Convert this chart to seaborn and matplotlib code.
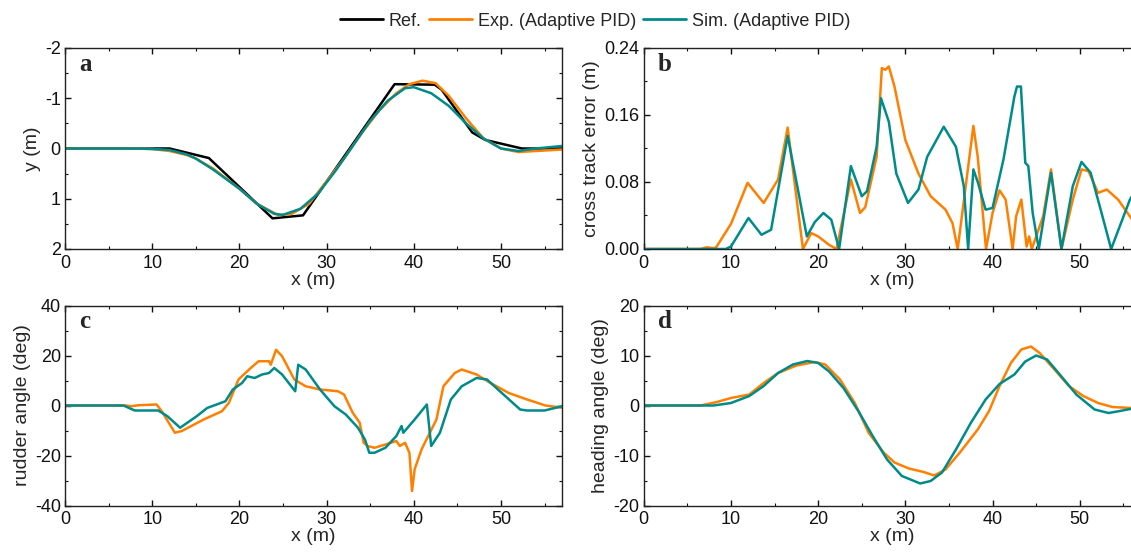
import numpy as np
import pandas as pd
import matplotlib
matplotlib.use("Agg")
import matplotlib.pyplot as plt
from matplotlib.ticker import MultipleLocator
import seaborn as sns

# --- a: path y(x) ---
ref_x = [0, 12, 16.5, 23.8, 27.3, 37.8, 42.4, 43.2, 46.7, 48.2, 52.4, 57]
ref_y = [0, 0, 0.19, 1.39, 1.33, -1.28, -1.27, -1.17, -0.32, -0.17, 0.0, 0.0]

exp_a_x = [0, 8, 10, 12, 14, 15, 17, 20, 22, 24.5, 26, 28, 30, 32, 34, 36, 38, 39.5, 41, 42.5, 44, 46, 48, 50, 52, 54, 57]
exp_a_y = [0, 0, 0.01, 0.05, 0.13, 0.2, 0.4, 0.8, 1.1, 1.33, 1.3, 1.1, 0.65, 0.2, -0.3, -0.75, -1.1, -1.28, -1.35, -1.3, -1.05, -0.6, -0.2, 0.0, 0.07, 0.05, 0.02]

sim_a_x = [0, 8, 10, 12, 14, 15, 17, 20, 22, 24, 25, 27, 29, 31, 33, 35, 37, 39, 40, 42, 44, 46, 48, 50, 52, 54, 57]
sim_a_y = [0, 0, 0.01, 0.03, 0.12, 0.2, 0.42, 0.8, 1.1, 1.3, 1.32, 1.2, 0.9, 0.45, -0.05, -0.55, -0.95, -1.2, -1.22, -1.1, -0.85, -0.5, -0.2, 0.0, 0.05, 0.0, -0.05]

# --- b: cross track error ---
exp_b_x = [0, 6.5, 7.2, 8.0, 8.3, 10, 11.9, 13.75, 15.4, 16.5, 18.25, 19.2, 20, 21.25, 22.1, 23.75, 24.8, 25.4, 26.7, 27.3, 27.7,
           28.1, 28.75, 30, 31.5, 32.9, 34.6, 35.4, 36.0, 37.8, 38.3, 39.25, 40, 40.8, 41.5, 42.3, 42.7, 43.3, 43.9, 44.2, 44.5,
           45.8, 46.7, 47.9, 49.2, 50.2, 51, 52.1, 53.1, 54.4, 55.75, 57]
exp_b_y = [0, 0, 0.002, 0.001, 0.002, 0.03, 0.079, 0.055, 0.083, 0.145, 0.0, 0.019, 0.015, 0.005, 0.0, 0.083, 0.043, 0.05, 0.11, 0.216, 0.214,
           0.218, 0.194, 0.13, 0.09, 0.063, 0.047, 0.031, 0.0, 0.147, 0.11, 0.0, 0.043, 0.07, 0.059, 0.0, 0.039, 0.059, 0.003, 0.015, 0.0,
           0.039, 0.095, 0.0, 0.059, 0.095, 0.093, 0.067, 0.071, 0.059, 0.039, 0.02]

sim_b_x = [0, 9.4, 10, 12, 13.5, 14.6, 16.5, 18.7, 19.6, 20.6, 21.5, 22.4, 23.75, 25, 25.6, 26.7, 27.2, 28.1, 28.96, 30.3, 31.5, 32.5,
           34.4, 35.8, 36.7, 37.2, 37.8, 38.3, 39.2, 40, 41.25, 42.5, 42.8, 43.25, 43.75, 44.1, 44.6, 45.3, 46.7, 47.9, 49.2, 50.2,
           51.25, 52.5, 53.6, 55.75, 57]
sim_b_y = [0, 0, 0.003, 0.037, 0.017, 0.023, 0.135, 0.015, 0.032, 0.043, 0.035, 0.0, 0.099, 0.063, 0.069, 0.122, 0.18, 0.152, 0.09, 0.055, 0.071, 0.11,
           0.146, 0.122, 0.075, 0.0, 0.095, 0.08, 0.047, 0.049, 0.107, 0.182, 0.194, 0.194, 0.103, 0.099, 0.043, 0.0, 0.091, 0.0, 0.075, 0.104,
           0.091, 0.043, 0.0, 0.059, 0.08]

# --- c: rudder angle ---
exp_c_x = [0, 7, 7.6, 8.4, 10.5, 11.1, 12.6, 13.4, 15.9, 18, 18.8, 19.9, 21.3, 22.2, 23.4, 23.6, 24.2, 24.9, 26.3, 27.6, 29.25, 31.3, 32,
           33, 33.8, 34.25, 34.7, 35.5, 36.75, 38, 38.4, 39, 39.5, 39.8, 40.1, 40.9, 42.6, 43.4, 44.7, 45.5, 47.2, 48.8, 50.9, 53, 55.1, 57]
exp_c_y = [0, 0, -0.3, 0.1, 0.4, -2.3, -10.9, -10.2, -5.6, -2.3, 1.1, 10.4, 15, 17.7, 17.7, 16.3, 22.3, 19.7, 10.4, 7.7, 6.4, 5.7, 4.4,
           -2.9, -6.9, -14.9, -16.2, -16.9, -15.6, -14.2, -16.2, -14.9, -18.9, -34.2, -25.5, -17.5, -5.6, 7.7, 13, 14.4, 12.4, 9, 5, 2.4, 0, -0.9]

sim_c_x = [0, 6.7, 8, 10.7, 11.75, 13.2, 15.1, 16.3, 18.4, 19.25, 20.3, 20.9, 21.75, 22.6, 23.4, 24, 24.9, 26.4, 26.75, 27.6, 29.25, 30.9,
           32.2, 33.6, 34.4, 34.9, 35.5, 36.75, 38, 38.6, 38.8, 40.1, 41.5, 42.0, 43, 44.25, 45.5, 47.2, 48.4, 50.1, 52.2, 53, 55, 57]
sim_c_y = [0, 0, -2, -2, -4.3, -8.9, -4.3, -1, 1.7, 6.4, 9, 11.7, 11, 12.4, 13, 15, 12.4, 5.7, 16.3, 14.4, 6.4, -0.3,
           -3.6, -8.9, -13.6, -18.9, -18.9, -16.9, -12.2, -8.2, -10.9, -5.6, 0.4, -16.2, -10.9, 2.4, 7.7, 11, 10.4, 5, -1.6, -2, -2, -0.3]

# --- d: heading angle ---
exp_d_x = [0, 6.5, 8.3, 10, 12.1, 13.75, 15.4, 17.5, 19.6, 20.8, 22.5, 24.2, 25.8, 27.5, 28.75, 30.4, 32.1, 33.3, 34.6, 36.25, 38.3,
           39.6, 40.8, 42.1, 43.3, 44.4, 45.4, 47.1, 48.75, 50.4, 52.1, 53.75, 57]
exp_d_y = [0, 0, 0.66, 1.5, 2.2, 4.5, 6.5, 8, 8.7, 8.2, 5.2, 0.5, -5.5, -9.4, -11.4, -12.6, -13.3, -14, -12.8, -9.4, -4.8,
           -1.1, 3.9, 8.5, 11.2, 11.8, 10.5, 7.2, 3.9, 1.9, 0.5, -0.3, -0.6]

sim_d_x = [0, 8, 10, 12.1, 13.75, 15.4, 17.1, 18.75, 20, 21.25, 22.9, 24.6, 26.25, 27.9, 29.6, 31.7, 32.9, 34.2, 35.8, 37.5, 39.2,
           40.8, 42.5, 43.75, 45, 46.25, 47.9, 49.6, 51.7, 53.3, 54.6, 57]
sim_d_y = [0, 0, 0.5, 1.9, 3.9, 6.5, 8.2, 8.9, 8.5, 6.8, 3.5, -1.1, -6.1, -10.8, -14.1, -15.6, -15.1, -13.4, -8.8, -3.5, 1.2,
           4.3, 6.2, 8.8, 10, 9.2, 5.8, 2.2, -0.8, -1.5, -1.1, -0.3]

labels = ["Ref.", "Exp. (Adaptive PID)", "Sim. (Adaptive PID)"]
colors = {"Ref.": "#000000", "Exp. (Adaptive PID)": "#FF8000", "Sim. (Adaptive PID)": "#008B8B"}


def frame(series):
    parts = []
    for name, xs, ys in series:
        parts.append(pd.DataFrame({"x": xs, "y": ys, "series": name}))
    return pd.concat(parts, ignore_index=True)


sns.set_theme(style="ticks")
plt.rcParams["font.family"] = ["Liberation Sans", "DejaVu Sans"]
plt.rcParams["axes.unicode_minus"] = False
plt.rcParams["xtick.direction"] = "in"
plt.rcParams["ytick.direction"] = "in"

fig = plt.figure(figsize=(11.31, 5.54), dpi=100)
W, H = 1131, 554
# axes boxes in pixels: left, top, right, bottom
boxes = {
    "a": (65, 48, 562, 249),
    "b": (643.8, 48, 1140.8, 249),
    "c": (65, 305.5, 562, 505.5),
    "d": (643.8, 305.5, 1140.8, 505.5),
}

panels = {
    "a": (frame([("Ref.", ref_x, ref_y), ("Exp. (Adaptive PID)", exp_a_x, exp_a_y), ("Sim. (Adaptive PID)", sim_a_x, sim_a_y)]),
          "y (m)", (2, -2), [-2, -1, 0, 1, 2], 0.5, None),
    "b": (frame([("Exp. (Adaptive PID)", exp_b_x, exp_b_y), ("Sim. (Adaptive PID)", sim_b_x, sim_b_y)]),
          "cross track error (m)", (0, 0.24), [0, 0.08, 0.16, 0.24], 0.04, ["0.00", "0.08", "0.16", "0.24"]),
    "c": (frame([("Exp. (Adaptive PID)", exp_c_x, exp_c_y), ("Sim. (Adaptive PID)", sim_c_x, sim_c_y)]),
          "rudder angle (deg)", (-40, 40), [-40, -20, 0, 20, 40], 10, None),
    "d": (frame([("Exp. (Adaptive PID)", exp_d_x, exp_d_y), ("Sim. (Adaptive PID)", sim_d_x, sim_d_y)]),
          "heading angle (deg)", (-20, 20), [-20, -10, 0, 10, 20], 5, None),
}

for key, (df, ylab, ylim, yticks, yminor, yticklabels) in panels.items():
    l, t, r, b = boxes[key]
    ax = fig.add_axes([l / W, (H - b) / H, (r - l) / W, (b - t) / H])
    sns.lineplot(data=df, x="x", y="y", hue="series", palette=colors, estimator=None,
                 sort=False, linewidth=1.8, legend=False, ax=ax)
    ax.set_xlim(0, 57)
    ax.set_ylim(*ylim)
    ax.set_xticks([0, 10, 20, 30, 40, 50])
    ax.xaxis.set_minor_locator(MultipleLocator(5))
    ax.set_yticks(yticks)
    if yticklabels:
        ax.set_yticklabels(yticklabels)
    ax.yaxis.set_minor_locator(MultipleLocator(yminor))
    ax.tick_params(which="both", top=True, right=True, labelsize=13, colors="#111111")
    ax.tick_params(axis="x", which="both", pad=4)
    ax.tick_params(axis="y", which="both", pad=3)
    ax.tick_params(which="major", length=4, width=1)
    ax.tick_params(which="minor", length=2.5, width=0.8)
    for s in ax.spines.values():
        s.set_linewidth(1.0)
        s.set_color("#222222")
    ax.set_xlabel("x (m)", fontsize=14, labelpad=0)
    ax.set_ylabel(ylab, fontsize=14, labelpad=3)
    ax.text(0.028, 0.885, key, transform=ax.transAxes, fontsize=18, fontweight="bold",
            family=["Liberation Serif", "DejaVu Serif"], va="baseline", ha="left")

handles = [plt.Line2D([], [], color=colors[l], linewidth=2) for l in labels]
fig.legend(handles, labels, loc="center left", bbox_to_anchor=(340 / W, 1 - 21 / H), ncol=3, frameon=False,
           fontsize=13, handlelength=2.4, handletextpad=0.3, columnspacing=0.4, borderaxespad=0, borderpad=0)

fig.savefig("out.png", dpi=100)
